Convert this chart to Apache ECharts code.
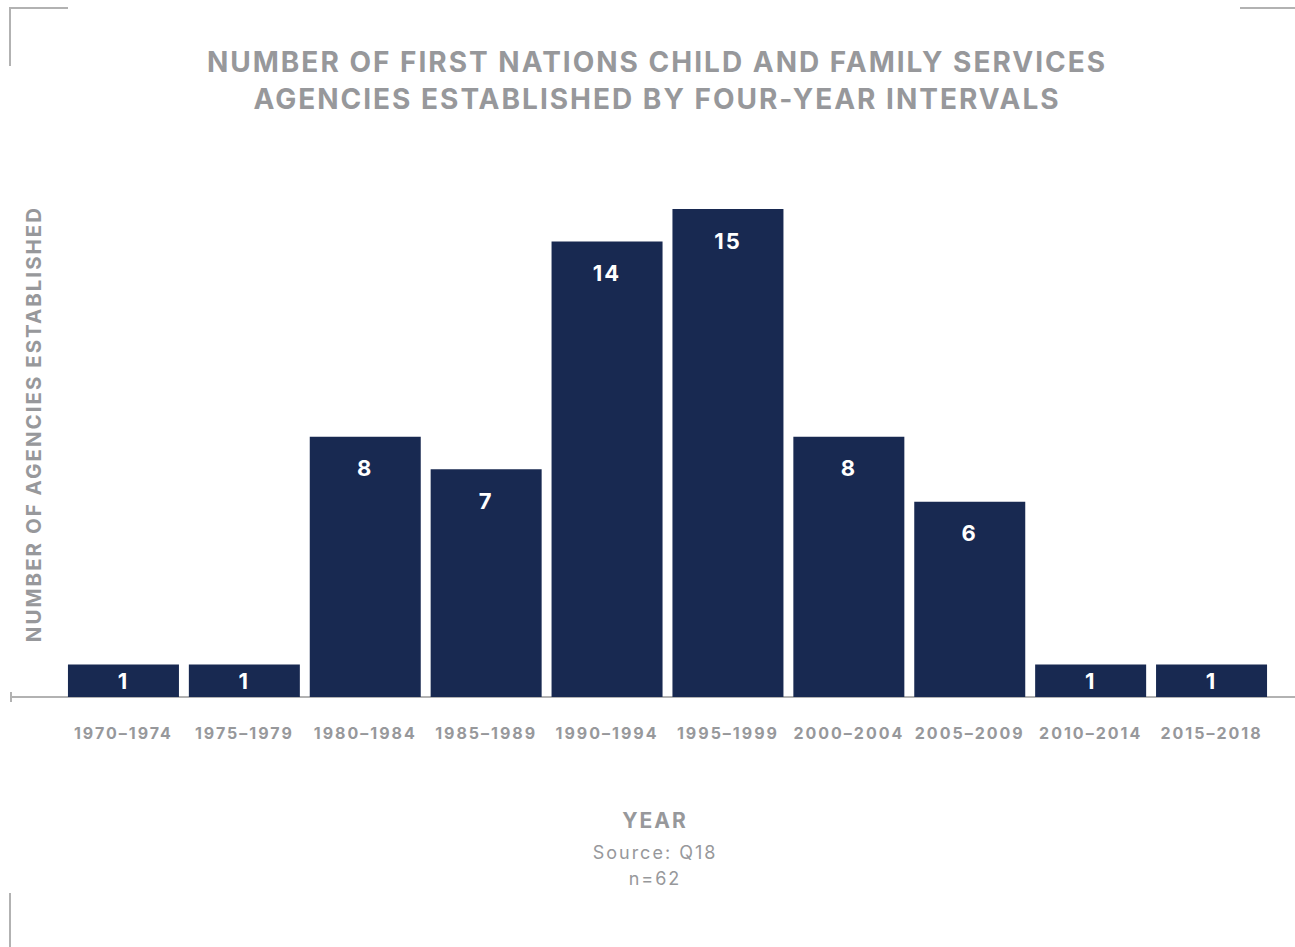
<!DOCTYPE html>
<html>
<head>
<meta charset="utf-8">
<style>
  html, body { margin: 0; padding: 0; background: #ffffff; }
  #chart { width: 1295px; height: 947px; }
  /* the typeface used here runs a little tight, so open up the tracking */
  #chart svg text { letter-spacing: 2px; }
</style>
<script src="https://cdn.jsdelivr.net/npm/echarts@6/dist/echarts.min.js"></script>
</head>
<body>
<div id="chart"></div>
<script>
// Agencies established per interval
const categories = ['1970–1974', '1975–1979', '1980–1984', '1985–1989', '1990–1994',
                    '1995–1999', '2000–2004', '2005–2009', '2010–2014', '2015–2018'];
const agencyCounts = [1, 1, 8, 7, 14, 15, 8, 6, 1, 1];

const titleLines = ['NUMBER OF FIRST NATIONS CHILD AND FAMILY SERVICES',
                    'AGENCIES ESTABLISHED BY FOUR-YEAR INTERVALS'];
const yAxisTitle = 'NUMBER OF AGENCIES ESTABLISHED';
const xAxisTitle = 'YEAR';
const sourceLines = ['Source: Q18', 'n=62'];

const FONT = 'Inter, "Noto Sans", sans-serif';
const GREY = '#97989b';
const NAVY = '#182951';
const RULE = '#b2b2b2';

const chart = echarts.init(document.getElementById('chart'), null, { renderer: 'svg' });

// short bars get their label centred, taller bars keep it near the top
const barData = agencyCounts.map(v => ({
  value: v,
  label: v < 2 ? { position: 'inside' } : { position: 'insideTop', distance: 20.5 }
}));

function centredText(text, x, y, font) {
  return {
    type: 'text', x: x, y: y,
    style: { text: text, fill: GREY, font: font, textAlign: 'center', textVerticalAlign: 'middle' }
  };
}

chart.setOption({
  backgroundColor: '#ffffff',
  animation: false,
  grid: { left: 63, right: 23, top: 209, bottom: 250, containLabel: false },
  xAxis: {
    type: 'category',
    data: categories,
    axisLine: { show: false },
    axisTick: { show: false },
    axisLabel: {
      color: GREY, fontFamily: FONT, fontSize: 16, fontWeight: 'bold',
      margin: 28, interval: 0
    }
  },
  yAxis: {
    type: 'value',
    min: 0,
    max: 15,
    show: false,
    splitLine: { show: false }
  },
  series: [{
    type: 'bar',
    data: barData,
    barWidth: 111,
    itemStyle: { color: NAVY },
    label: {
      show: true,
      color: '#ffffff',
      fontFamily: FONT,
      fontSize: 22,
      fontWeight: 'bold'
    }
  }],
  graphic: [
    // chart title, two lines
    centredText(titleLines[0], 657, 62, 'bold 28px ' + FONT),
    centredText(titleLines[1], 657, 99, 'bold 28px ' + FONT),
    // baseline with a small end tick
    { type: 'line', shape: { x1: 10, y1: 697, x2: 1295, y2: 697 }, style: { stroke: RULE, lineWidth: 2 }, z: 0 },
    { type: 'line', shape: { x1: 11, y1: 692, x2: 11, y2: 702 }, style: { stroke: RULE, lineWidth: 2 } },
    // corner marks
    { type: 'polyline', shape: { points: [[10, 66], [10, 8], [68, 8]] }, style: { stroke: RULE, lineWidth: 2, fill: null } },
    { type: 'line', shape: { x1: 1240, y1: 8, x2: 1295, y2: 8 }, style: { stroke: RULE, lineWidth: 2 } },
    { type: 'line', shape: { x1: 10, y1: 893, x2: 10, y2: 947 }, style: { stroke: RULE, lineWidth: 2 } },
    // vertical axis title
    {
      type: 'text', x: 33, y: 424, rotation: Math.PI / 2,
      style: {
        text: yAxisTitle, fill: GREY, font: 'bold 20.5px ' + FONT,
        textAlign: 'center', textVerticalAlign: 'middle'
      }
    },
    // horizontal axis title and source note
    centredText(xAxisTitle, 655, 820, 'bold 21px ' + FONT),
    centredText(sourceLines[0], 655, 852, '18px ' + FONT),
    centredText(sourceLines[1], 655, 878, '18px ' + FONT)
  ]
});
</script>
</body>
</html>
